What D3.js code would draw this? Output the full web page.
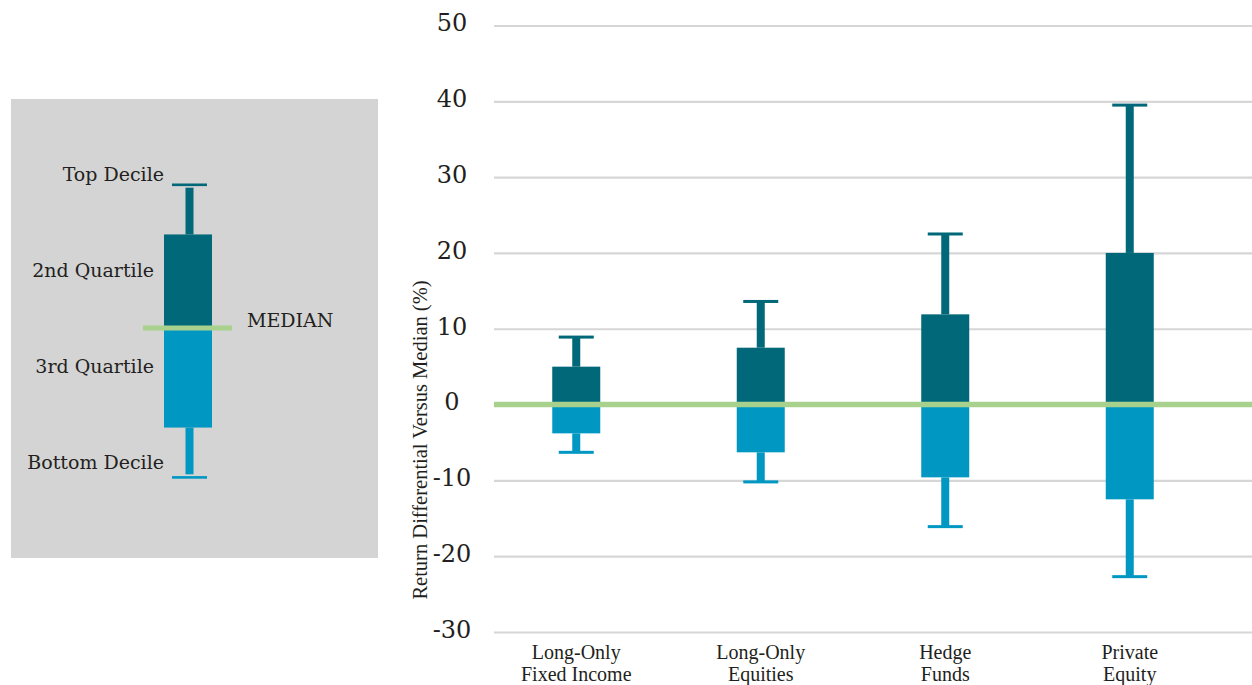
<!DOCTYPE html>
<html>
<head>
<meta charset="utf-8">
<script src="https://cdn.jsdelivr.net/npm/d3@7/dist/d3.min.js"></script>
<style>
  html, body { margin: 0; padding: 0; background: #ffffff; }
  svg { display: block; }
</style>
</head>
<body>
<svg id="chart" width="1252" height="685"></svg>
<script>
// ---- data ----
const categories = [["Long-Only", "Fixed Income"], ["Long-Only", "Equities"], ["Hedge", "Funds"], ["Private", "Equity"]];
const topDecile    = [8.9, 13.6, 22.5, 39.5];
const upperQuart   = [5.0, 7.5, 11.9, 20.0];
const median       = [0, 0, 0, 0];
const lowerQuart   = [-3.8, -6.3, -9.6, -12.5];
const bottomDecile = [-6.3, -10.2, -16.1, -22.7];
const yTicks = [-30, -20, -10, 0, 10, 20, 30, 40, 50];
const axisTitle = "Return Differential Versus Median (%)";

// legend key (schematic units)
const legendLabels = ["Top Decile", "2nd Quartile", "MEDIAN", "3rd Quartile", "Bottom Decile"];
const legendKey = { top: 1, q3: 0.66, median: 0.02, q1: -0.66, bottom: -1 };

// ---- style ----
const DARK = "#006878", LIGHT = "#0098c3", GREEN = "#a9d18e", GRID = "#d6d6d6", TEXT = "#231f20";
const svg = d3.select("#chart");

const y = d3.scaleLinear().domain([-30, 50]).range([632, 25.5]);
const x = d3.scaleBand().domain(d3.range(categories.length)).range([484, 1222]).paddingInner(0).paddingOuter(0);
const boxW = 48, stemW = 8, capW = 35;

// grid + tick labels
const yAxis = d3.axisLeft(y).tickValues(yTicks).tickSizeInner(-(1252 - 494)).tickSizeOuter(0).tickPadding(42).tickFormat(d => String(d));
const gAxis = svg.append("g").attr("transform", "translate(494,0)").call(yAxis);
gAxis.select(".domain").remove();
gAxis.selectAll(".tick line").attr("stroke", GRID).attr("stroke-width", 2.2);
gAxis.selectAll(".tick text")
  .attr("text-anchor", "middle")
  .attr("fill", TEXT)
  .attr("dy", "0.22em")
  .style("font-family", "'DejaVu Serif', serif")
  .style("font-size", "24px");

// axis title
svg.append("text")
  .attr("transform", `translate(427,${440}) rotate(-90)`)
  .attr("text-anchor", "middle")
  .attr("fill", TEXT)
  .style("font-family", "'Liberation Serif', serif")
  .style("font-size", "20.5px")
  .text(axisTitle);

// boxes
const idx = d3.range(categories.length);
const cx = i => x(i) + x.bandwidth() / 2;
const g = svg.append("g");

// top whiskers
g.selectAll(".stemTop").data(idx).join("rect")
  .attr("x", i => cx(i) - stemW / 2).attr("width", stemW)
  .attr("y", i => y(topDecile[i])).attr("height", i => y(upperQuart[i]) - y(topDecile[i]))
  .attr("fill", DARK);
g.selectAll(".capTop").data(idx).join("rect")
  .attr("x", i => cx(i) - capW / 2).attr("width", capW)
  .attr("y", i => y(topDecile[i]) - 1.5).attr("height", 3)
  .attr("fill", DARK);
// bottom whiskers
g.selectAll(".stemBot").data(idx).join("rect")
  .attr("x", i => cx(i) - stemW / 2).attr("width", stemW)
  .attr("y", i => y(lowerQuart[i])).attr("height", i => y(bottomDecile[i]) - y(lowerQuart[i]))
  .attr("fill", LIGHT);
g.selectAll(".capBot").data(idx).join("rect")
  .attr("x", i => cx(i) - capW / 2).attr("width", capW)
  .attr("y", i => y(bottomDecile[i]) - 1.5).attr("height", 3)
  .attr("fill", LIGHT);
// upper box
g.selectAll(".boxUp").data(idx).join("rect")
  .attr("x", i => cx(i) - boxW / 2).attr("width", boxW)
  .attr("y", i => y(upperQuart[i])).attr("height", i => y(median[i]) - y(upperQuart[i]))
  .attr("fill", DARK);
// lower box
g.selectAll(".boxLow").data(idx).join("rect")
  .attr("x", i => cx(i) - boxW / 2).attr("width", boxW)
  .attr("y", i => y(median[i])).attr("height", i => y(lowerQuart[i]) - y(median[i]))
  .attr("fill", LIGHT);

// median line
svg.append("line")
  .attr("x1", 494).attr("x2", 1252).attr("y1", y(0)).attr("y2", y(0))
  .attr("stroke", GREEN).attr("stroke-width", 5.5);

// category labels
const cat = svg.append("g");
cat.selectAll("text").data(idx).join("text")
  .attr("x", cx).attr("y", 659)
  .attr("text-anchor", "middle")
  .attr("fill", TEXT)
  .style("font-family", "'Liberation Serif', serif")
  .style("font-size", "20px")
  .each(function (i) {
    const t = d3.select(this);
    t.append("tspan").attr("x", cx(i)).attr("dy", 0).text(categories[i][0]);
    t.append("tspan").attr("x", cx(i)).attr("dy", 21.5).text(categories[i][1]);
  });

// ---- legend ----
const lg = svg.append("g");
lg.append("rect").attr("x", 11).attr("y", 99).attr("width", 367).attr("height", 459).attr("fill", "#d3d4d3");
const ly = d3.scaleLinear().domain([-1, 1]).range([477.3, 184.7]);
const lcx = 189.5;
lg.append("rect").attr("x", lcx - stemW / 2).attr("width", stemW)
  .attr("y", ly(legendKey.top) + 3).attr("height", ly(legendKey.q3) - ly(legendKey.top) - 3).attr("fill", DARK);
lg.append("rect").attr("x", lcx - capW / 2).attr("width", capW)
  .attr("y", ly(legendKey.top) - 1.2).attr("height", 2.6).attr("fill", DARK);
lg.append("rect").attr("x", lcx - stemW / 2).attr("width", stemW)
  .attr("y", ly(legendKey.q1)).attr("height", ly(legendKey.bottom) - ly(legendKey.q1) - 3).attr("fill", LIGHT);
lg.append("rect").attr("x", lcx - capW / 2).attr("width", capW)
  .attr("y", ly(legendKey.bottom) - 1.2).attr("height", 2.6).attr("fill", LIGHT);
lg.append("rect").attr("x", lcx - 1.5 - boxW / 2).attr("width", boxW)
  .attr("y", ly(legendKey.q3)).attr("height", ly(legendKey.median) - ly(legendKey.q3)).attr("fill", DARK);
lg.append("rect").attr("x", lcx - 1.5 - boxW / 2).attr("width", boxW)
  .attr("y", ly(legendKey.median)).attr("height", ly(legendKey.q1) - ly(legendKey.median)).attr("fill", LIGHT);
lg.append("line").attr("x1", 143).attr("x2", 232).attr("y1", ly(legendKey.median)).attr("y2", ly(legendKey.median))
  .attr("stroke", GREEN).attr("stroke-width", 5);

const legendText = [
  { t: legendLabels[0], x: 164, y: 181, a: "end" },
  { t: legendLabels[1], x: 154, y: 277, a: "end" },
  { t: legendLabels[2], x: 247, y: 327, a: "start" },
  { t: legendLabels[3], x: 154, y: 373, a: "end" },
  { t: legendLabels[4], x: 164, y: 469, a: "end" }
];
lg.selectAll("text.lt").data(legendText).join("text")
  .attr("class", "lt")
  .attr("x", d => d.x).attr("y", d => d.y)
  .attr("text-anchor", d => d.a)
  .attr("fill", TEXT)
  .style("font-family", "'DejaVu Serif', serif")
  .style("font-size", "19px")
  .text(d => d.t);
</script>
</body>
</html>
